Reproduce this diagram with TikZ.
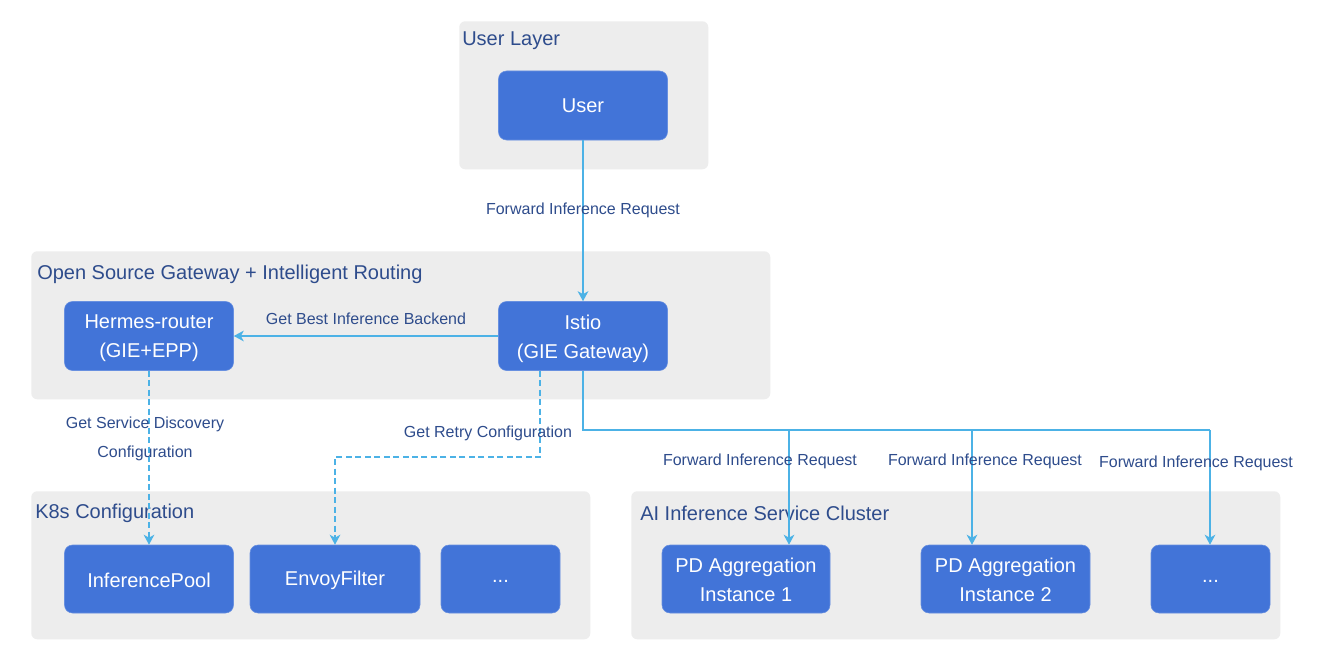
\documentclass[tikz,border=0pt]{standalone}
\usepackage{fontspec}
\setmainfont{Liberation Sans}
\usetikzlibrary{arrows.meta}
\definecolor{boxblue}{RGB}{66,116,216}
\definecolor{panel}{RGB}{237,237,237}
\definecolor{linec}{RGB}{76,178,230}
\definecolor{txtc}{RGB}{46,76,140}
\begin{document}
\begin{tikzpicture}[x=0.75pt,y=-0.75pt,
  container/.style={fill=panel, rounded corners=4.5pt, inner sep=0pt, anchor=north west},
  title/.style={anchor=west, text=txtc, font=\fontsize{15}{18}\selectfont, inner sep=0pt},
  box/.style={fill=boxblue, draw=boxblue!80!white, line width=0.4pt, rounded corners=6pt, text=white, align=center,
    font=\fontsize{15}{21.75}\selectfont, inner sep=0pt, minimum height=69*0.75pt},
  boxtext/.style={text=white, align=center, font=\fontsize{15}{21.75}\selectfont, inner sep=0pt},
  lbl/.style={text=txtc, font=\fontsize{12}{21.75}\selectfont, align=center, inner sep=0pt},
  flow/.style={draw=linec, line width=1.3pt, -{Stealth[length=7.5pt,width=8pt,inset=2.2pt]}},
  dflow/.style={flow, dash pattern=on 4.5pt off 2.6pt},
  plain/.style={draw=linec, line width=1.3pt}]
\useasboundingbox (0,0) rectangle (1320,660);
\fill[white] (0,0) rectangle (1320,660);

% containers
\node[container, minimum width=249*0.75pt, minimum height=148*0.75pt] (userlayer) at (459,21) {};
\node[container, minimum width=739*0.75pt, minimum height=148*0.75pt] (gateway) at (31,251) {};
\node[container, minimum width=559*0.75pt, minimum height=148*0.75pt] (k8s) at (31,491) {};
\node[container, minimum width=649*0.75pt, minimum height=148*0.75pt] (cluster) at (631,491) {};

\node[title] (t1) at (462,41) {User Layer};
\node[title] (t2) at (37,274) {Open Source Gateway + Intelligent Routing};
\node[title] (t3) at (35,513) {K8s Configuration};
\node[title] (t4) at (640,513) {AI Inference Service Cluster};

% boxes
\node[box, minimum width=169*0.75pt] (user) at (583,105.5) {User};
\node[box, minimum width=169*0.75pt] (hermes) at (149,336) {};
\node[boxtext] (hermestxt) at (149,338.5) {Hermes-router\\(GIE+EPP)};
\node[box, minimum width=169*0.75pt] (istio) at (583,336) {};
\node[boxtext] (istiotxt) at (583,338.5) {Istio\\(GIE Gateway)};
\node[box, minimum width=169*0.75pt, minimum height=68*0.75pt] (pool) at (149,579) {};
\node[boxtext] (pooltxt) at (149,580) {InferencePool};
\node[box, minimum width=170*0.75pt, minimum height=68*0.75pt] (envoy) at (335,579) {};
\node[boxtext] (envoytxt) at (335,580) {EnvoyFilter};
\node[box, minimum width=119*0.75pt, minimum height=68*0.75pt] (kdots) at (500.5,579) {};
\node[boxtext] (kdotstxt) at (500.5,581) {...};
\node[box, minimum width=168*0.75pt, minimum height=68*0.75pt] (pd1) at (746,579) {};
\node[boxtext] (pd1txt) at (746,580) {PD Aggregation\\Instance 1};
\node[box, minimum width=169*0.75pt, minimum height=68*0.75pt] (pd2) at (1005.5,579) {};
\node[boxtext] (pd2txt) at (1005.5,580) {PD Aggregation\\Instance 2};
\node[box, minimum width=119*0.75pt, minimum height=68*0.75pt] (adots) at (1210.5,579) {};
\node[boxtext] (adotstxt) at (1210.5,581) {...};

% connectors
\coordinate (retry) at (540,457);
\coordinate (fork) at (583,430);
\coordinate (b1) at (789,430);
\coordinate (b2) at (972,430);
\coordinate (b3) at (1210,430);

\draw[flow] (user) -- (istio);
\draw[flow] (istio) -- (hermes);
\draw[dflow] (hermes) -- (pool);
\draw[dflow] (istio.south -| retry) -- (retry) -| (envoy.north);
\draw[plain] (istio.south) -- (fork) -- (b3);
\draw[flow] (b3) -- (b3 |- adots.north);
\draw[flow] (b1) -- (b1 |- pd1.north);
\draw[flow] (b2) -- (b2 |- pd2.north);

% labels
\node[lbl] (l1) at (583,210) {Forward Inference Request};
\node[lbl] (l2) at (366,318.5) {Get Best Inference Backend};
\node[lbl] (l3) at (145,439) {Get Service Discovery\\Configuration};
\node[lbl] (l4) at (488,433.5) {Get Retry Configuration};
\node[lbl] (l5) at (760,461.5) {Forward Inference Request};
\node[lbl] (l6) at (985,461.5) {Forward Inference Request};
\node[lbl] (l7) at (1196,463.5) {Forward Inference Request};
\end{tikzpicture}
\end{document}
